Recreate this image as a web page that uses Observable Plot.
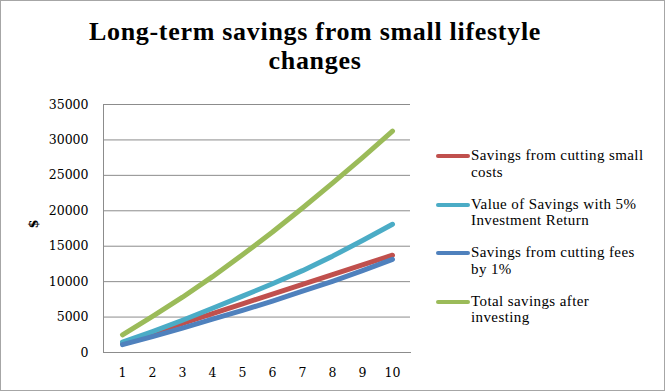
<!DOCTYPE html>
<html>
<head>
<meta charset="utf-8">
<script src="https://cdn.jsdelivr.net/npm/d3@7"></script>
<script src="https://cdn.jsdelivr.net/npm/@observablehq/plot@0.6"></script>
<style>
  html, body { margin: 0; padding: 0; background: #fff; }
  #chart { position: relative; width: 667px; height: 392px; overflow: hidden; background: #fff; }
  #frame { position: absolute; left: 0px; top: 0px; width: 663px; height: 389px; border: 1.5px solid #a6a6a6; box-sizing: content-box; pointer-events: none; }
  #title { position: absolute; left: 0; width: 630px; top: 17px; text-align: center;
    font-family: "Liberation Serif", serif; font-weight: bold; font-size: 26px; letter-spacing: 0.7px; line-height: 29px; color: #000; }
  #plot { position: absolute; left: 0; top: 0; }
  #legend { position: absolute; left: 436px; top: 147px; font-family: "Liberation Serif", serif; font-size: 15px; letter-spacing: 0.4px; line-height: 16.5px; color: #000; }
  .item { position: relative; padding-left: 35px; height: 48.6px; }
  .sw { position: absolute; left: 0; top: 7px; width: 34px; height: 4px; border-radius: 2px; }
</style>
</head>
<body>
<div id="chart">
  <div id="plot"></div>
  <div id="title">Long-term savings from small lifestyle<br>changes</div>
  <div id="legend"></div>
  <div id="frame"></div>
</div>
<script>
const years = [1, 2, 3, 4, 5, 6, 7, 8, 9, 10];
const seriesNames = [
  "Savings from cutting small costs",
  "Value of Savings with 5% Investment Return",
  "Savings from cutting fees by 1%",
  "Total savings after investing"
];
const legendLines = [
  ["Savings from cutting small", "costs"],
  ["Value of Savings with 5%", "Investment Return"],
  ["Savings from cutting fees", "by 1%"],
  ["Total savings after", "investing"]
];
const colors = ["#C0504D", "#4BACC6", "#4F81BD", "#9BBB59"];
const smallCosts = [1370, 2750, 4120, 5490, 6870, 8240, 9610, 10980, 12360, 13730];
const investReturn = [1450, 2950, 4550, 6250, 7950, 9700, 11550, 13600, 15800, 18100];
const feeSavings = [1100, 2250, 3450, 4700, 5950, 7250, 8650, 10050, 11550, 13150];
const totalSavings = [2500, 5100, 7800, 10700, 13800, 17000, 20400, 23900, 27500, 31250];
const yTicks = [0, 5000, 10000, 15000, 20000, 25000, 30000, 35000];

const allSeries = [smallCosts, investReturn, feeSavings, totalSavings];
const rows = [];
allSeries.forEach((vals, si) => vals.forEach((v, i) => rows.push({series: seriesNames[si], year: years[i], value: v})));

const drawOrder = [0, 1, 2, 3];

const plot = Plot.plot({
  width: 667,
  height: 392,
  marginLeft: 103,
  marginRight: 257,
  marginTop: 104,
  marginBottom: 40,
  style: { fontFamily: "DejaVu Serif, serif", fontSize: "12.5px", color: "#000", background: "transparent" },
  x: { type: "point", domain: years, padding: 0.5 },
  y: { domain: [0, 35000] },
  color: { domain: seriesNames, range: colors },
  marks: [
    Plot.gridY(yTicks, { stroke: "#8c8c8c", strokeOpacity: 1, strokeWidth: 1 }),
    Plot.axisY(yTicks, { tickSize: 0, tickPadding: 15, tickFormat: d => String(d), label: null, fontSize: "12.5px" }),
    Plot.axisX(years, { tickSize: 0, tickPadding: 16, label: null, fontSize: "12.5px" }),
    Plot.frame({ anchor: "left", stroke: "#8c8c8c", strokeWidth: 1 }),
    Plot.frame({ anchor: "bottom", stroke: "#8c8c8c", strokeWidth: 1 }),
    ...drawOrder.map(si => Plot.lineY(rows.filter(r => r.series === seriesNames[si]), {
      x: "year", y: "value", stroke: colors[si], strokeWidth: 5, strokeLinecap: "round", strokeLinejoin: "round"
    })),
    Plot.text(["$"], { frameAnchor: "left", dx: -70, rotate: -90, fontWeight: "bold", fontSize: 13, fill: "#000" })
  ]
});
document.getElementById("plot").appendChild(plot);

const legend = document.getElementById("legend");
legendLines.forEach((lines, i) => {
  const item = document.createElement("div");
  item.className = "item";
  const sw = document.createElement("div");
  sw.className = "sw";
  sw.style.background = colors[i];
  item.appendChild(sw);
  const t = document.createElement("div");
  t.innerHTML = lines.join("<br>");
  item.appendChild(t);
  legend.appendChild(item);
});
</script>
</body>
</html>
